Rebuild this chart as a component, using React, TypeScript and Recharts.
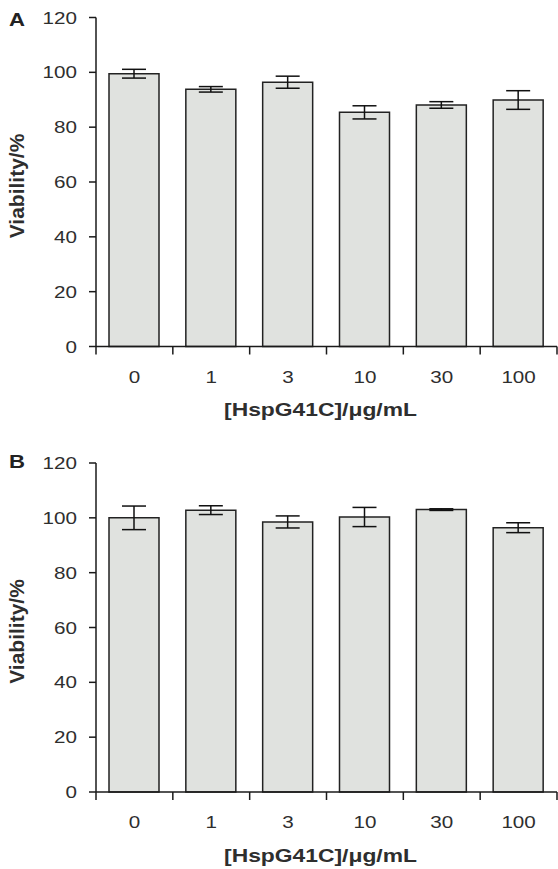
import React from "react";
import { BarChart, Bar, XAxis, YAxis, ErrorBar } from "recharts";

const categories = ["0", "1", "3", "10", "30", "100"];
const viabilityA = [99.5, 93.8, 96.4, 85.4, 88.1, 89.9];
const errorA = [1.6, 1.0, 2.2, 2.4, 1.2, 3.4];
const viabilityB = [100.0, 102.8, 98.5, 100.3, 103.0, 96.4];
const errorB = [4.3, 1.6, 2.2, 3.5, 0.3, 1.8];
const yTicks = [0, 20, 40, 60, 80, 100, 120];
const panelLetters = ["A", "B"];
const xTitle = "[HspG41C]/μg/mL";
const yTitle = "Viability/%";

const FONT = "'Liberation Sans', Arial, Helvetica, sans-serif";
const W = 558;
const LEFT = 96;
const RIGHT = 1;
const BAND = (W - LEFT - RIGHT) / categories.length;
const AXIS = "#1a1a1a";
const TXT = "#2e2e2e";
const SX = 1.25;

const XTick = (props: any) => {
  const { x, y, payload, index } = props;
  const n = categories.length;
  return (
    <g>
      <line x1={x - BAND / 2} x2={x - BAND / 2} y1={y} y2={y + 8} stroke={AXIS} strokeWidth={1.5} />
      {index === n - 1 && (
        <line x1={x + BAND / 2} x2={x + BAND / 2} y1={y} y2={y + 8} stroke={AXIS} strokeWidth={1.5} />
      )}
      <g transform={`translate(${x} ${y + 36}) scale(${SX} 1)`}>
        <text x={0} y={0} textAnchor="middle" fontSize={16.5} fill={TXT} fontFamily={FONT}>
          {payload.value}
        </text>
      </g>
    </g>
  );
};

const YTick = (props: any) => {
  const { x, y, payload } = props;
  return (
    <g transform={`translate(${x} ${y + 6}) scale(${SX} 1)`}>
      <text x={0} y={0} textAnchor="end" fontSize={16.5} fill={TXT} fontFamily={FONT}>
        {payload.value}
      </text>
    </g>
  );
};

const XTitle = (props: any) => {
  const vb = props.viewBox || {};
  return (
    <g transform={`translate(${vb.x + vb.width / 2 - 6} ${vb.y + 69.5}) scale(1.27 1)`}>
      <text x={0} y={0} textAnchor="middle" fontSize={18} fontWeight="bold" fill={TXT} fontFamily={FONT}>
        {xTitle}
      </text>
    </g>
  );
};

const YTitle = (props: any) => {
  const vb = props.viewBox || {};
  const cx = 16;
  const cy = vb.y + vb.height / 2 + 4;
  return (
    <text
      x={cx}
      y={cy}
      transform={`rotate(-90 ${cx} ${cy})`}
      textAnchor="middle"
      dominantBaseline="central"
      fontSize={21}
      fontWeight="bold"
      fill={TXT}
      fontFamily={FONT}
    >
      {yTitle}
    </text>
  );
};

function Panel(props: {
  letter: string;
  values: number[];
  errors: number[];
  height: number;
  marginTop: number;
  xAxisHeight: number;
  letterBaseline: number;
}) {
  const data = categories.map((c, i) => ({ cat: c, v: props.values[i], err: props.errors[i] }));
  return (
    <div style={{ position: "relative", width: W, height: props.height }}>
      <BarChart
        width={W}
        height={props.height}
        data={data}
        margin={{ top: props.marginTop, right: RIGHT, left: 0, bottom: 0 }}
        barSize={50}
      >
        <XAxis
          dataKey="cat"
          height={props.xAxisHeight}
          tickLine={false}
          tickSize={0}
          tickMargin={0}
          axisLine={{ stroke: AXIS, strokeWidth: 1.5 }}
          tick={<XTick />}
          interval={0}
          label={<XTitle />}
        />
        <YAxis
          width={LEFT}
          domain={[0, 120]}
          ticks={yTicks}
          interval={0}
          tickSize={7}
          tickMargin={12}
          axisLine={{ stroke: AXIS, strokeWidth: 1.5 }}
          tickLine={{ stroke: AXIS, strokeWidth: 1.5 }}
          tick={<YTick />}
          label={<YTitle />}
        />
        <Bar dataKey="v" fill="#e0e2df" stroke="#222" strokeWidth={1.5} isAnimationActive={false}>
          <ErrorBar dataKey="err" width={12} stroke="#111" strokeWidth={1.5} direction="y" />
        </Bar>
      </BarChart>
      <svg
        width={60}
        height={70}
        style={{ position: "absolute", left: 0, top: 0, pointerEvents: "none", overflow: "visible" }}
      >
        <g transform={`translate(9 ${props.letterBaseline}) scale(1.23 1)`}>
          <text x={0} y={0} fontSize={18} fontWeight="bold" fill="#222" fontFamily={FONT}>
            {props.letter}
          </text>
        </g>
      </svg>
    </div>
  );
}

export default function App() {
  return (
    <div style={{ position: "absolute", left: 0, top: 0, width: W, height: 869, background: "#fff" }}>
      <Panel
        letter={panelLetters[0]}
        values={viabilityA}
        errors={errorA}
        height={430}
        marginTop={17.5}
        xAxisHeight={83.5}
        letterBaseline={26}
      />
      <Panel
        letter={panelLetters[1]}
        values={viabilityB}
        errors={errorB}
        height={439}
        marginTop={33}
        xAxisHeight={77}
        letterBaseline={38}
      />
    </div>
  );
}
